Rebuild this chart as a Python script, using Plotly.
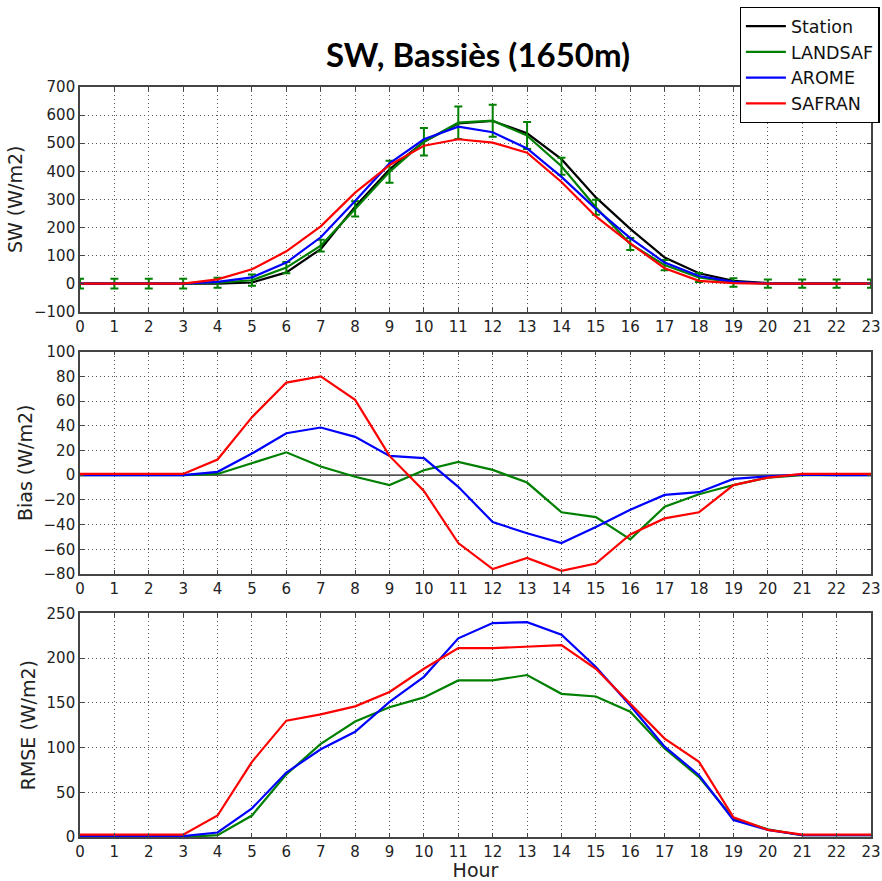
import plotly.graph_objects as go

hours = list(range(24))

# SW (W/m2)
sw_station = [0, 0, 0, 0, 0, 4, 40, 123, 274, 407, 505, 570, 579, 535, 443, 307, 195, 93, 37, 10, 2, 0, 0, 0]
sw_landsaf = [0, 0, 0, 0, 3, 12, 57, 135, 266, 398, 505, 573, 580, 527, 418, 272, 141, 66, 22, 4, 0, 0, 0, 0]
sw_landsaf_err = [17, 17, 17, 17, 18, 20, 20, 21, 27, 39, 49, 58, 57, 48, 30, 27, 21, 18, 16, 15, 15, 15, 15, 15]
sw_arome = [0, 0, 0, 0, 6, 22, 75, 165, 294, 428, 514, 559, 539, 481, 380, 266, 162, 75, 27, 6, 0, 0, 0, 0]
sw_safran = [0, 0, 0, 0, 15, 51, 115, 204, 324, 422, 491, 514, 502, 466, 362, 239, 143, 55, 10, 2, 0, 0, 0, 0]

# Bias (W/m2)
bias_landsaf = [0, 0, 0, 0, 1, 10, 18.5, 7, -1.3, -8, 4, 10.8, 4.3, -6, -30, -34, -52, -25.6, -15.4, -8, -2, 0, 0, 0]
bias_arome = [0, 0, 0, 0, 2.7, 17.5, 34, 38.6, 31, 15.6, 13.8, -9.4, -38, -47, -55, -42, -28, -16, -13.8, -3, -1, 0.5, 0, 0]
bias_safran = [1, 1, 1, 1, 12.7, 47, 75, 80, 61, 15.6, -12.7, -55, -76, -67, -77.5, -71.5, -48, -35, -30, -8, -2, 1, 1, 1]

# RMSE (W/m2)
rmse_landsaf = [0, 0, 0, 0, 2, 24, 70, 104, 129, 145, 156, 175, 175, 181, 160, 157, 140, 99, 67, 21, 8.6, 2, 2, 2]
rmse_arome = [1, 1, 1, 1, 5, 32, 72, 98, 117.5, 151, 179, 222, 239, 240, 226, 190, 147, 101, 69, 19, 8, 2, 2, 2]
rmse_safran = [2.6, 2.6, 2.6, 2.6, 24, 84, 130, 137, 146, 162, 188, 211, 211, 213, 214.5, 188, 149, 110, 84, 22, 8, 2.6, 2.6, 2.6]

series_names = ["Station", "LANDSAF", "AROME", "SAFRAN"]
colors = {"Station": "#000000", "LANDSAF": "#008000", "AROME": "#0000ff", "SAFRAN": "#ff0000"}
x_ticks = list(range(24))

fig = go.Figure()
LW = 2.2

# Top panel
fig.add_trace(go.Scatter(x=hours, y=sw_station, mode="lines", name="Station",
                         line=dict(color=colors["Station"], width=LW), xaxis="x", yaxis="y"))
fig.add_trace(go.Scatter(x=hours, y=sw_landsaf, mode="lines", name="LANDSAF",
                         line=dict(color=colors["LANDSAF"], width=LW),
                         error_y=dict(type="data", array=sw_landsaf_err, visible=True,
                                      color=colors["LANDSAF"], thickness=2, width=4),
                         xaxis="x", yaxis="y"))
fig.add_trace(go.Scatter(x=hours, y=sw_arome, mode="lines", name="AROME",
                         line=dict(color=colors["AROME"], width=LW), xaxis="x", yaxis="y"))
fig.add_trace(go.Scatter(x=hours, y=sw_safran, mode="lines", name="SAFRAN",
                         line=dict(color=colors["SAFRAN"], width=LW), xaxis="x", yaxis="y"))

# Middle panel
fig.add_trace(go.Scatter(x=[0, 23], y=[0, 0], mode="lines", showlegend=False,
                         line=dict(color="#555555", width=1.8), xaxis="x2", yaxis="y2"))
for nm, vals in [("LANDSAF", bias_landsaf), ("AROME", bias_arome), ("SAFRAN", bias_safran)]:
    fig.add_trace(go.Scatter(x=hours, y=vals, mode="lines", name=nm, showlegend=False,
                             line=dict(color=colors[nm], width=LW), xaxis="x2", yaxis="y2"))

# Bottom panel
for nm, vals in [("LANDSAF", rmse_landsaf), ("AROME", rmse_arome), ("SAFRAN", rmse_safran)]:
    fig.add_trace(go.Scatter(x=hours, y=vals, mode="lines", name=nm, showlegend=False,
                             line=dict(color=colors[nm], width=LW), xaxis="x3", yaxis="y3"))

tick_font = dict(family="DejaVu Sans", size=15, color="#222222")
title_font = dict(family="DejaVu Sans", size=19, color="#222222")
GRID_DASH = "1px,3px"
GRID_COLOR = "#555555"

def xax(anchor):
    return dict(range=[0, 23], tickmode="array", tickvals=x_ticks, ticktext=[str(v) for v in x_ticks],
                showgrid=True, gridcolor=GRID_COLOR, griddash=GRID_DASH, gridwidth=1,
                showline=True, linecolor="#444444", linewidth=1.6, mirror="ticks",
                ticks="inside", ticklen=4, tickcolor="#444444", tickfont=tick_font,
                zeroline=False, anchor=anchor, domain=[0, 1])

def yax(rng, dtick, dom, title, anchor):
    return dict(range=rng, dtick=dtick, tick0=0, domain=dom,
                showgrid=True, gridcolor=GRID_COLOR, griddash=GRID_DASH, gridwidth=1,
                showline=True, linecolor="#444444", linewidth=1.6, mirror="ticks",
                ticks="inside", ticklen=4, tickcolor="#444444", tickfont=tick_font,
                zeroline=False, anchor=anchor,
                title=dict(text=title, font=title_font, standoff=6))

fig.update_layout(
    width=882, height=881,
    margin=dict(l=80, r=11, t=87, b=44, autoexpand=False),
    paper_bgcolor="white", plot_bgcolor="white",
    xaxis=xax("y"),
    xaxis2=xax("y2"),
    xaxis3=dict(xax("y3"), title=dict(text="Hour", font=dict(family="DejaVu Sans", size=19, color="#222222"), standoff=2)),
    yaxis=yax([-100, 700], 100, [0.7004, 1.0], "SW (W/m2)", "x"),
    yaxis2=yax([-80, 100], 20, [0.3507, 0.6471], "Bias (W/m2)", "x2"),
    yaxis3=yax([0, 250], 50, [0.0, 0.2983], "RMSE (W/m2)", "x3"),
    title=dict(text="<b>SW, Bassiès (1650m)</b>", x=478 / 882, xanchor="center",
               y=1 - 55 / 881, yanchor="middle",
               font=dict(family="Lato", size=33, color="black")),
    legend=dict(x=0.834, y=1.1067, xanchor="left", yanchor="top", xref="paper", yref="paper",
                bgcolor="white", bordercolor="black", borderwidth=1.2,
                font=dict(family="DejaVu Sans", size=17.5, color="#111111"),
                tracegroupgap=0, itemwidth=40),
    showlegend=True,
)

fig.write_html("out.html")
